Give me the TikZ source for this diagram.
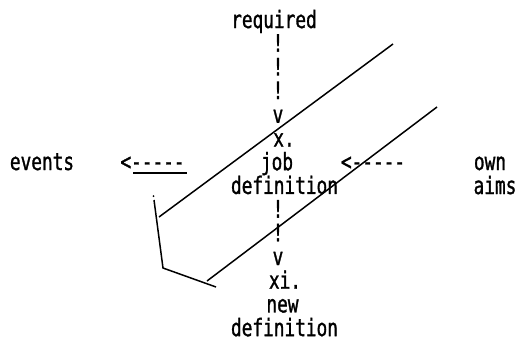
\documentclass[tikz,border=0pt]{standalone}
\usepackage{fontspec}
\newfontfamily\dotfont[FakeStretch=0.74,FakeBold=1.2]{DejaVu Sans Mono}
\tikzset{J10txt/.style={font=\dotfont\fontsize{24}{24}\selectfont,inner sep=0pt,anchor=base},
         J10ln/.style={line width=1.5pt}}

\begin{document}
\begin{tikzpicture}[x=1pt,y=-1pt]
    \useasboundingbox (0,0) rectangle (517,341);
    % centre column, one typed line per row
    \foreach \x/\k/\n/\t in {274/0/req/required,278/1/b1/!,278/2/b2/!,278/3/b3/!,278/4/v1/v,
        284/5/nx/x.,277/6/job/job,284.5/7/jdef/definition,278/8/b4/!,278/9/b5/!,278/10/v2/v,
        285/11/nxi/xi.,282.5/12/new/new,284.5/13/ndef/definition}
      {\node[J10txt] (\n) at (\x,{28+23.7*\k}) {\t};}
    \node[J10txt] (ev) at (42,170) {events};
    \node[J10txt] (evarr) at (152.5,170) {<-----};
    \node[J10txt] (aimarr) at (373,170) {<-----};
    \node[J10txt] (own) at (490,170) {own};
    \node[J10txt] (aims) at (495,194) {aims};
    % strokes
    \coordinate (ulA) at (133,173); \coordinate (ulB) at (187,173);
    \coordinate (upA) at (159,217); \coordinate (upB) at (393,44);
    \coordinate (loA) at (207,281); \coordinate (loB) at (437,107);
    \coordinate (brT) at (154,200); \coordinate (brC) at (163,268); \coordinate (brE) at (216,287);
    \draw[J10ln] (ulA)--(ulB);
    \draw[J10ln] (upA)--(upB); \draw[J10ln] (loA)--(loB);
    \draw[J10ln] (brT)--(brC)--(brE);
    \fill (153.5,196) circle (1pt);
  \end{tikzpicture}
\end{document}
